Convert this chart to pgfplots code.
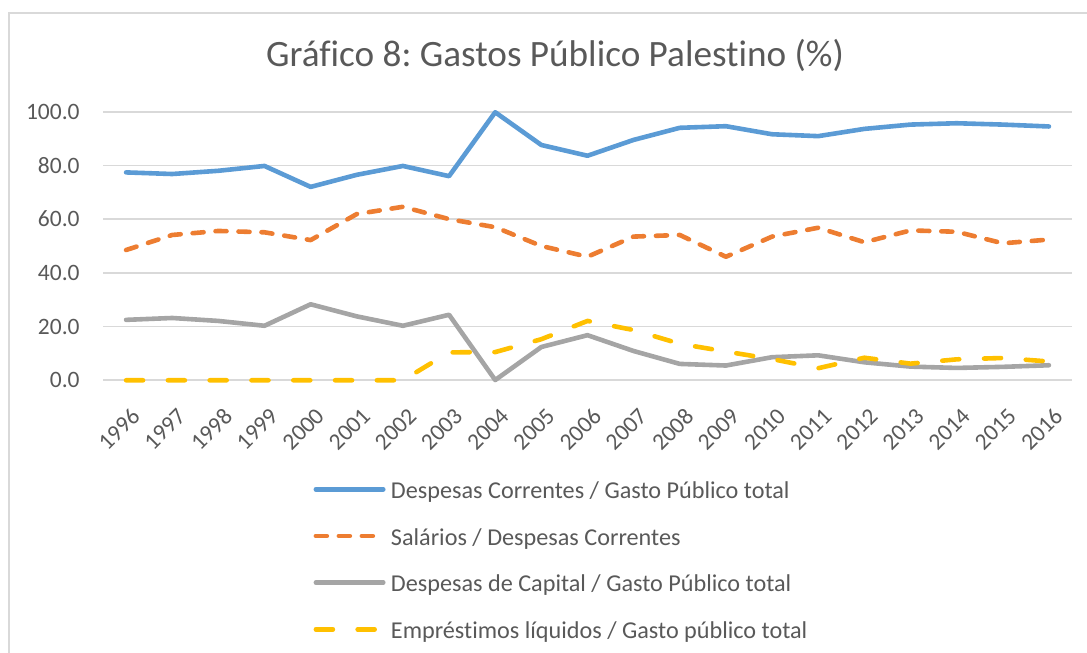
\documentclass[border=0pt]{standalone}
\usepackage{fontspec}
\setmainfont{Carlito}[Ligatures=NoCommon]
\usepackage{pgfplots}
\pgfplotsset{compat=1.18}
\definecolor{txt}{HTML}{595959}
\definecolor{gridc}{HTML}{D9D9D9}
\definecolor{cblue}{HTML}{5B9BD5}
\definecolor{corange}{HTML}{ED7D31}
\definecolor{cgray}{HTML}{A5A5A5}
\definecolor{cyellow}{HTML}{FFC000}
\frenchspacing
\begin{document}
\begin{tikzpicture}
% picture frame: 1 px of the reference = 0.5pt
\useasboundingbox (0,0) rectangle (543.5pt,326.5pt);
\draw[gridc, line width=0.8pt] (4.5pt,0) -- (4.5pt,320pt) -- (543.5pt,320pt);
\node[txt, font=\fontsize{18.6}{20}\selectfont, anchor=base] at (277.5pt,293pt)
  {Gráfico 8: Gastos Público Palestino (\%)};
\begin{axis}[
    at={(51.5pt,136.35pt)}, anchor=south west,
    scale only axis, width=484.5pt, height=134.3pt,
    xmin=1995.5, xmax=2016.5, ymin=0, ymax=100,
    axis line style={draw=none},
    ymajorgrids, grid style={gridc, line width=0.9pt},
    tick style={draw=none},
    ytick={0,20,40,60,80,100},
    yticklabels={0.0,20.0,40.0,60.0,80.0,100.0},
    xtick={1996,...,2016},
    xticklabels={1996,1997,1998,1999,2000,2001,2002,2003,2004,2005,2006,2007,2008,2009,2010,2011,2012,2013,2014,2015,2016},
    ticklabel style={txt, font=\fontsize{11.75}{13}\selectfont, inner sep=0pt},
    yticklabel style={anchor=east, xshift=-11.5pt},
    xticklabel style={anchor=north east, xshift=2pt, yshift=-13pt, rotate=45},
    clip=false,
    legend cell align=left,
    legend style={draw=none, fill=none, inner sep=0pt, outer sep=0pt,
        at={(0.2173,-0.3727)}, anchor=north west,
        font=\fontsize{12.1}{13}\selectfont, text=txt,
        row sep=11.35pt, column sep=2.7pt,
        nodes={inner sep=0pt, text height=9pt, text depth=3pt}},
    legend image code/.code={\draw[#1] (1.15pt,1.6pt) -- (34.85pt,1.6pt);},
]
\addplot[cblue, line width=2.3pt, line cap=round, line join=round] coordinates {
(1996,77.4) (1997,76.8) (1998,78.0) (1999,79.8) (2000,72.0) (2001,76.5) (2002,79.8)
(2003,76.0) (2004,99.8) (2005,87.6) (2006,83.6) (2007,89.5) (2008,94.0) (2009,94.6)
(2010,91.6) (2011,90.9) (2012,93.6) (2013,95.2) (2014,95.7) (2015,95.2) (2016,94.5)};
\addlegendentry{Despesas Correntes / Gasto Público total}
\addplot[corange, line width=2.3pt, line cap=round, line join=round,
    dash pattern=on 5.5pt off 6pt] coordinates {
(1996,48.5) (1997,54.1) (1998,55.6) (1999,55.1) (2000,52.2) (2001,61.9) (2002,64.6)
(2003,60.0) (2004,57.0) (2005,50.0) (2006,46.0) (2007,53.5) (2008,54.1) (2009,46.0)
(2010,53.5) (2011,56.8) (2012,51.4) (2013,55.8) (2014,55.3) (2015,51.0) (2016,52.4)};
\addlegendentry{Salários / Despesas Correntes}
\addplot[cgray, line width=2.3pt, line cap=round, line join=round] coordinates {
(1996,22.5) (1997,23.2) (1998,22.1) (1999,20.3) (2000,28.3) (2001,23.8) (2002,20.3)
(2003,24.4) (2004,0.1) (2005,12.4) (2006,16.8) (2007,10.9) (2008,6.1) (2009,5.5)
(2010,8.6) (2011,9.3) (2012,6.7) (2013,5.1) (2014,4.6) (2015,5.0) (2016,5.6)};
\addlegendentry{Despesas de Capital / Gasto Público total}
\addplot[cyellow, line width=2.3pt, line cap=round, line join=round,
    dash pattern=on 8.5pt off 12.4pt] coordinates {
(1996,0) (1997,0) (1998,0) (1999,0) (2000,0) (2001,0) (2002,0)
(2003,10.4) (2004,10.5) (2005,15.3) (2006,22.1) (2007,18.7) (2008,13.6) (2009,10.7)
(2010,7.9) (2011,4.5) (2012,8.4) (2013,6.2) (2014,7.8) (2015,8.3) (2016,7.0)};
\addlegendentry{Empréstimos líquidos / Gasto público total}
\end{axis}
\end{tikzpicture}
\end{document}
